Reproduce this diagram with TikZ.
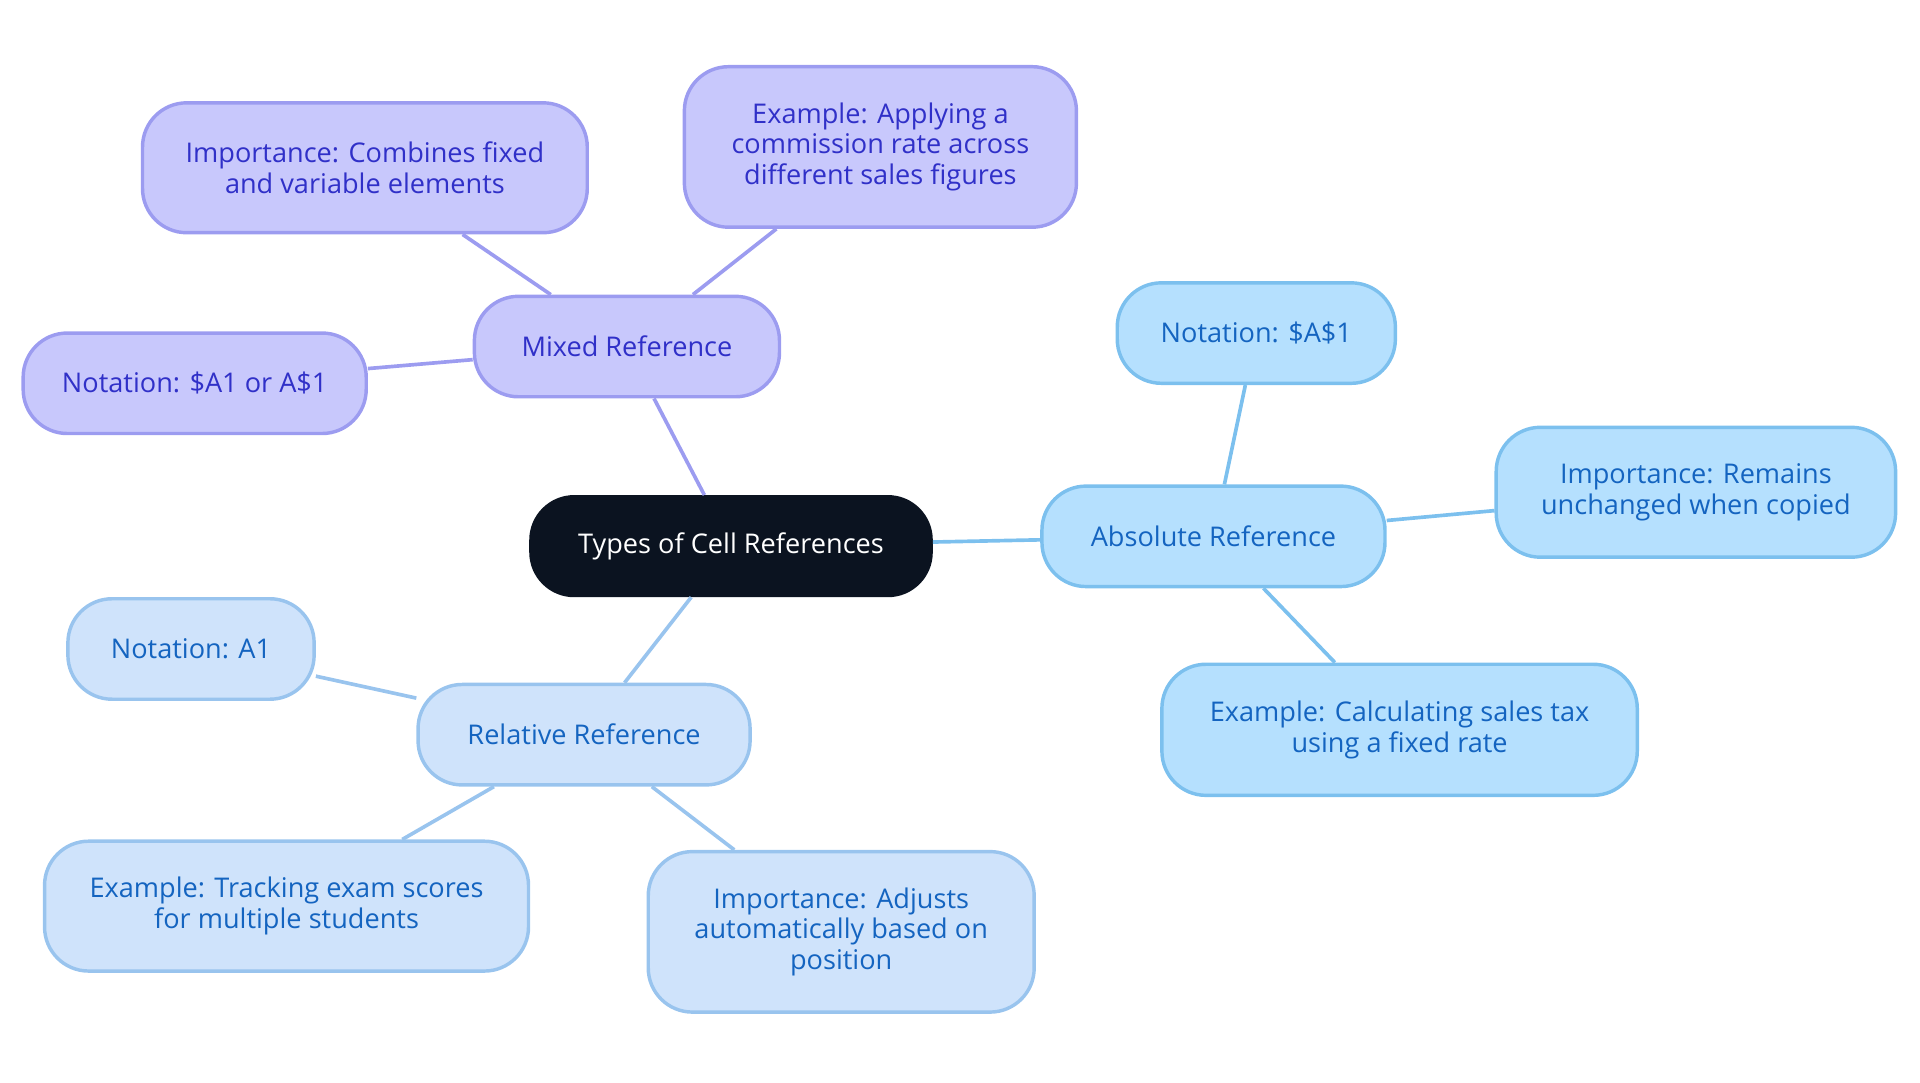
\documentclass[tikz,border=0pt]{standalone}
\usepackage{fontspec}
\setmainfont{Open Sans}
\definecolor{CoreFill}{HTML}{0B1320}
\definecolor{MixFill}{HTML}{C8C8FC}
\definecolor{MixLine}{HTML}{9C9CF0}
\definecolor{MixText}{HTML}{3030C8}
\definecolor{AbsFill}{HTML}{B5E0FE}
\definecolor{AbsLine}{HTML}{7CC0EE}
\definecolor{AbsText}{HTML}{1464C0}
\definecolor{RelFill}{HTML}{CFE3FB}
\definecolor{RelLine}{HTML}{99C4EE}
\begin{document}
\begin{tikzpicture}[x=0.01cm,y=-0.01cm,
    every node/.style={rounded corners=0.36cm,align=center,inner sep=0pt,
        font=\fontsize{6.3}{7.1}\selectfont},
    core/.style={fill=CoreFill,draw=CoreFill,text=white},
    mix/.style={fill=MixFill,draw=MixLine,text=MixText,thick},
    abs/.style={fill=AbsFill,draw=AbsLine,text=AbsText,thick},
    rel/.style={fill=RelFill,draw=RelLine,text=AbsText,thick},
    link/.style={line width=0.85pt}]
    \useasboundingbox (0,0) rectangle (1568,884);

    %% Centre
    \node [core,minimum width=3.28cm,minimum height=0.82cm] (types) at (597,446) {Types of Cell References};

    %% Mixed reference
    \node [mix,minimum width=2.49cm,minimum height=0.82cm] (mixed) at (512,283) {Mixed Reference};
    \node [mix,minimum width=3.63cm,minimum height=1.06cm] (mimp) at (298,137) {Importance: Combines fixed\\and variable elements};
    \node [mix,minimum width=3.20cm,minimum height=1.31cm] (mex) at (719,120) {Example: Applying a\\commission rate across\\different sales figures};
    \node [mix,minimum width=2.80cm,minimum height=0.82cm] (mnot) at (159,313) {Notation: \$A1 or A\$1};

    %% Absolute reference
    \node [abs,minimum width=2.80cm,minimum height=0.82cm] (absol) at (991,438) {Absolute Reference};
    \node [abs,minimum width=2.27cm,minimum height=0.82cm] (anot) at (1026,272) {Notation: \$A\$1};
    \node [abs,minimum width=3.26cm,minimum height=1.06cm] (aimp) at (1385,402) {Importance: Remains\\unchanged when copied};
    \node [abs,minimum width=3.88cm,minimum height=1.07cm] (aex) at (1143,596) {Example: Calculating sales tax\\using a fixed rate};

    %% Relative reference
    \node [rel,minimum width=2.71cm,minimum height=0.82cm] (relat) at (477,600) {Relative Reference};
    \node [rel,minimum width=2.01cm,minimum height=0.82cm] (rnot) at (156,530) {Notation: A1};
    \node [rel,minimum width=3.95cm,minimum height=1.06cm] (rex) at (234,740) {Example: Tracking exam scores\\for multiple students};
    \node [rel,minimum width=3.15cm,minimum height=1.31cm] (rimp) at (687,761) {Importance: Adjusts\\automatically based on\\position};

    %% Links
    \draw [link,MixLine] (types) -- (mixed);
    \draw [link,MixLine] (mixed) -- (mimp);
    \draw [link,MixLine] (mixed) -- (mex);
    \draw [link,MixLine] (mixed) -- (mnot);
    \draw [link,AbsLine] (types) -- (absol);
    \draw [link,AbsLine] (absol) -- (anot);
    \draw [link,AbsLine] (absol) -- (aimp);
    \draw [link,AbsLine] (absol) -- (aex);
    \draw [link,RelLine] (types) -- (relat);
    \draw [link,RelLine] (relat) -- (rnot);
    \draw [link,RelLine] (relat) -- (rex);
    \draw [link,RelLine] (relat) -- (rimp);
\end{tikzpicture}
\end{document}
